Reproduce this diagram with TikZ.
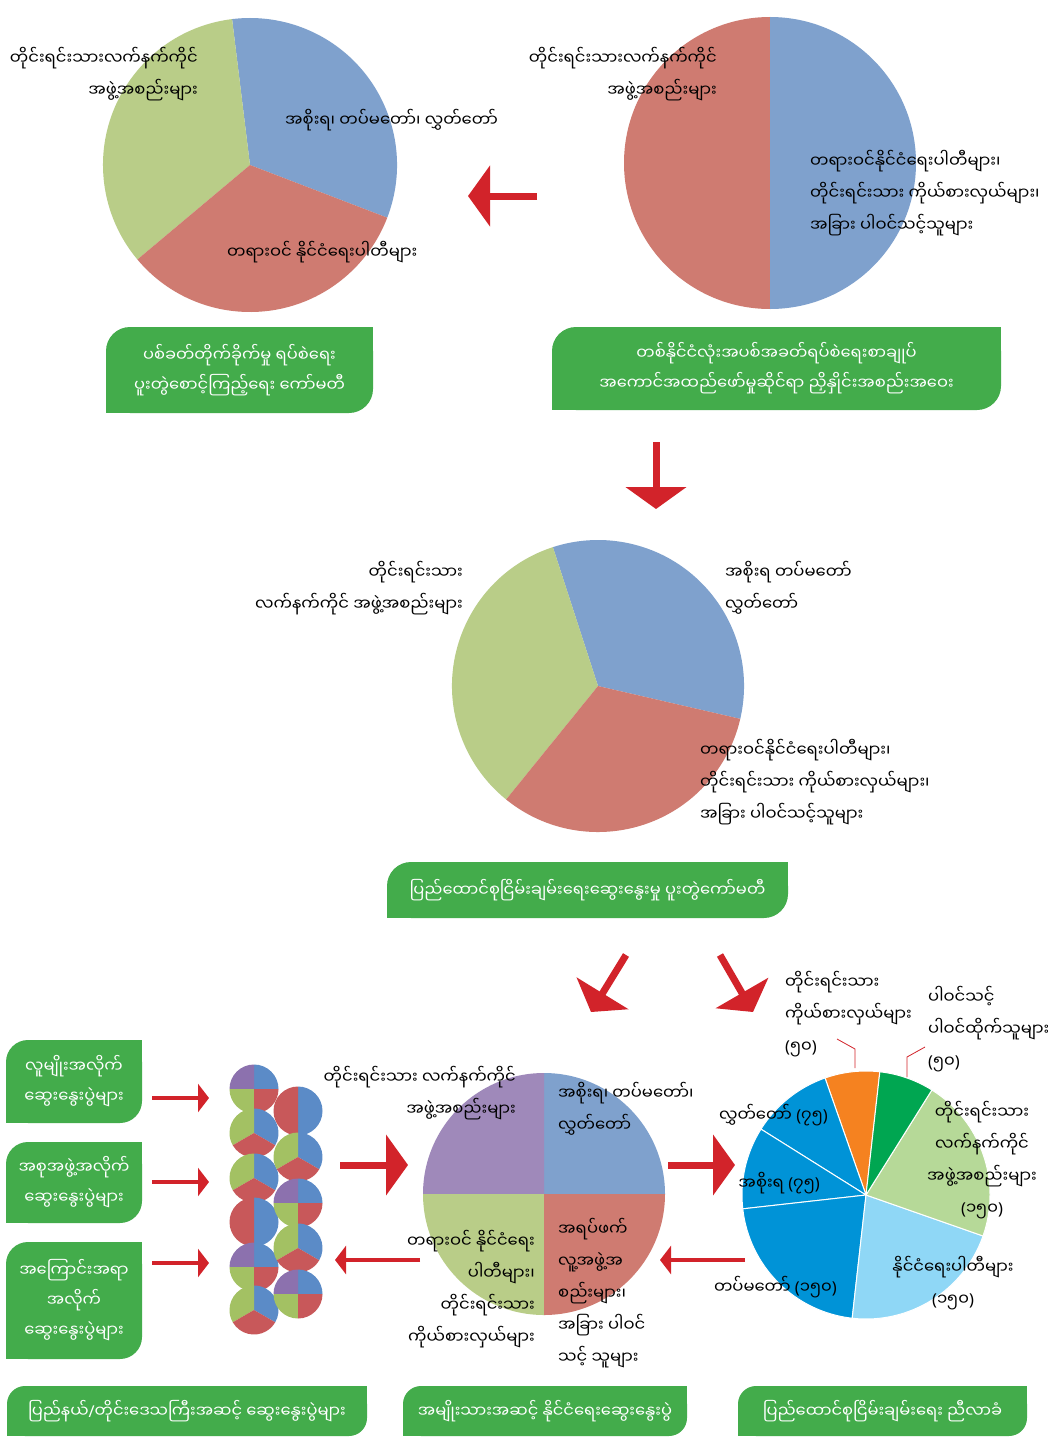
\documentclass[tikz,border=0pt]{standalone}
\usepackage{fontspec}
\usetikzlibrary{arrows.meta}
\newfontfamily\mmfont[Script=Myanmar]{Noto Sans Myanmar UI}
\newfontfamily\latfont{Noto Sans}
\newcommand{\lp}{{\latfont(}}
\newcommand{\rp}{{\latfont)}}
\pgfdeclarelayer{background}
\pgfsetlayers{background,main}

\definecolor{pieblue}{HTML}{7FA1CD}
\definecolor{piered}{HTML}{CF7B71}
\definecolor{piegreen}{HTML}{B9CD88}
\definecolor{piepurple}{HTML}{9F89BA}
\definecolor{sblue}{HTML}{5B8BC7}
\definecolor{sred}{HTML}{C8585A}
\definecolor{sgreen}{HTML}{A3C163}
\definecolor{spurple}{HTML}{8C71AE}
\definecolor{boxgreen}{HTML}{43AC4B}
\definecolor{arrowred}{HTML}{D2232A}
\definecolor{dblue}{HTML}{0093D7}
\definecolor{lblue}{HTML}{8FD7F6}
\definecolor{lgreen}{HTML}{B6D998}
\definecolor{dgreen}{HTML}{00A651}
\definecolor{orange}{HTML}{F58220}

% one slice of a pie, drawn round (0,0): start, end, radius, colour
\newcommand{\slice}[4]{\fill[#4] (0,0) -- (#1:#3) arc[start angle=#1,end angle=#2,radius=#3] -- cycle;}
\newcommand{\quarterpie}[3]{\begin{scope}[shift={(#1,#2)},yscale=-1]
  \slice{0}{90}{#3}{sblue} \slice{90}{180}{#3}{spurple} \slice{180}{270}{#3}{sgreen} \slice{270}{360}{#3}{sred}
  \end{scope}}
\newcommand{\thirdpie}[3]{\begin{scope}[shift={(#1,#2)},yscale=-1]
  \slice{-30}{90}{#3}{sblue} \slice{90}{210}{#3}{sgreen} \slice{210}{330}{#3}{sred}
  \end{scope}}
\newcommand{\halfpie}[3]{\begin{scope}[shift={(#1,#2)},yscale=-1]
  \slice{-90}{90}{#3}{sblue} \slice{90}{270}{#3}{sred}
  \end{scope}}

\tikzset{
  lbl/.style={font=\mmfont\fontsize{16.4}{32}\selectfont, inner sep=0pt},
  gbox/.style={fill=boxgreen, rounded corners=24pt, text=white, align=center, inner sep=0pt,
    font=\mmfont\fontsize{16.3}{30}\selectfont},
  bigarrow/.style={draw=arrowred, line width=7pt, -{Triangle[width=60pt,length=22pt]}},
  thinarrow/.style={draw=arrowred, line width=4pt, -{Triangle[width=28pt,length=11pt]}},
  leader/.style={draw=arrowred, line width=0.8pt},
}

\begin{document}
\begin{tikzpicture}[x=1pt,y=-1pt]
\useasboundingbox (0,0) rectangle (1048,1437);

% top left pie
\begin{scope}[shift={(250,165)},yscale=-1]
\slice{-21}{97}{147}{pieblue} \slice{97}{220}{147}{piegreen} \slice{220}{339}{147}{piered}
\end{scope}
\node[lbl, align=right, anchor=east] (tl-eao) at (198,74) {တိုင်းရင်းသားလက်နက်ကိုင်\\အဖွဲ့အစည်းများ};
\node[lbl, anchor=west] (tl-gov) at (285,120) {အစိုးရ၊ တပ်မတော်၊ လွှတ်တော်};
\node[lbl, anchor=west] (tl-party) at (227,252) {တရားဝင် နိုင်ငံရေးပါတီများ};

% top right pie
\begin{scope}[shift={(770,163)},yscale=-1]
\slice{90}{270}{146}{piered} \slice{-90}{90}{146}{pieblue}
\end{scope}
\node[lbl, align=right, anchor=east] (tr-eao) at (717,74) {တိုင်းရင်းသားလက်နက်ကိုင်\\အဖွဲ့အစည်းများ};
\node[lbl, align=left, anchor=west] (tr-other) at (810,193) {တရားဝင်နိုင်ငံရေးပါတီများ၊\\တိုင်းရင်းသား ကိုယ်စားလှယ်များ၊\\အခြား ပါဝင်သင့်သူများ};

% boxes under the top pies
\node[gbox, minimum width=267pt, minimum height=86pt] (jmc) at (239.5,370) {ပစ်ခတ်တိုက်ခိုက်မှု ရပ်စဲရေး\\ပူးတွဲစောင့်ကြည့်ရေး ကော်မတီ};
\node[gbox, minimum width=449pt, minimum height=83pt] (jicm) at (776.5,368.5) {တစ်နိုင်ငံလုံးအပစ်အခတ်ရပ်စဲရေးစာချုပ်\\အကောင်အထည်ဖော်မှုဆိုင်ရာ ညှိနှိုင်းအစည်းအဝေး};

% middle pie
\begin{scope}[shift={(598,686)},yscale=-1]
\slice{-13}{108}{146}{pieblue} \slice{108}{231}{146}{piegreen} \slice{231}{347}{146}{piered}
\end{scope}
\node[lbl, align=right, anchor=east] (m-eao) at (463,588) {တိုင်းရင်းသား\\လက်နက်ကိုင် အဖွဲ့အစည်းများ};
\node[lbl, align=left, anchor=west] (m-gov) at (725,588) {အစိုးရ တပ်မတော်\\လွှတ်တော်};
\node[lbl, align=left, anchor=west] (m-other) at (700,782) {တရားဝင်နိုင်ငံရေးပါတီများ၊\\တိုင်းရင်းသား ကိုယ်စားလှယ်များ၊\\အခြား ပါဝင်သင့်သူများ};
\node[gbox, minimum width=401pt, minimum height=56pt] (upjc) at (587.5,890) {ပြည်ထောင်စုငြိမ်းချမ်းရေးဆွေးနွေးမှု ပူးတွဲကော်မတီ};

% left boxes and the stack of small pies
\node[gbox, rounded corners=22pt, minimum width=136pt, minimum height=83pt] (ethnic) at (74,1081.5) {လူမျိုးအလိုက်\\ဆွေးနွေးပွဲများ};
\node[gbox, rounded corners=22pt, minimum width=136pt, minimum height=81pt] (sector) at (74,1182.5) {အစုအဖွဲ့အလိုက်\\ဆွေးနွေးပွဲများ};
\node[gbox, rounded corners=22pt, minimum width=136pt, minimum height=117pt] (theme) at (74,1300.5) {အကြောင်းအရာ\\အလိုက်\\ဆွေးနွေးပွဲများ};
\foreach \y/\kind in {1089/quarterpie,1133/thirdpie,1178/thirdpie,1222/halfpie,1267/quarterpie,1310/thirdpie}
  \csname\kind\endcsname{254}{\y}{24.5};
\foreach \y/\kind in {1111/halfpie,1157/thirdpie,1203/quarterpie,1248/thirdpie,1294/quarterpie}
  \csname\kind\endcsname{298}{\y}{24.5};

% bottom centre pie
\begin{scope}[shift={(544,1194)},yscale=-1]
\slice{0}{90}{121}{pieblue} \slice{90}{180}{121}{piepurple} \slice{180}{270}{121}{piegreen} \slice{270}{360}{121}{piered}
\end{scope}
\node[lbl, align=right, anchor=east] (b-eao) at (516,1093) {တိုင်းရင်းသား လက်နက်ကိုင်\\အဖွဲ့အစည်းများ};
\node[lbl, align=left, anchor=west] (b-gov) at (558,1109) {အစိုးရ၊ တပ်မတော်၊\\လွှတ်တော်};
\node[lbl, align=right, anchor=east] (b-party) at (535,1289.5) {တရားဝင် နိုင်ငံရေး\\ပါတီများ၊\\တိုင်းရင်းသား\\ကိုယ်စားလှယ်များ};
\node[lbl, align=left, anchor=west] (b-cso) at (558,1293.5) {အရပ်ဖက်\\လူ့အဖွဲ့အ\\စည်းများ၊\\အခြား ပါဝင်\\သင့် သူများ};

% right pie, 700 seats
\begin{scope}[shift={(866,1195)},yscale=-1]
\foreach \a/\b/\c in {83.6/109.3/orange,109.3/147.9/dblue,147.9/186.4/dblue,186.4/263.6/dblue,263.6/340.7/lblue,340.7/417.9/lgreen,417.9/443.6/dgreen}
  \filldraw[fill=\c, draw=white, line width=1pt] (0,0) -- (\a:124) arc[start angle=\a,end angle=\b,radius=124] -- cycle;
\end{scope}
\node[lbl, anchor=east] (r-hlu) at (828,1115) {လွှတ်တော် \lp၇၅\rp};
\node[lbl, anchor=east] (r-gov) at (820,1183) {အစိုးရ \lp၇၅\rp};
\node[lbl, anchor=east] (r-tat) at (837,1287) {တပ်မတော် \lp၁၅၀\rp};
\node[lbl, align=center] (r-party) at (953,1283.5) {နိုင်ငံရေးပါတီများ\\\lp၁၅၀\rp};
\node[lbl, align=center] (r-eao) at (982,1160) {တိုင်းရင်းသား\\လက်နက်ကိုင်\\အဖွဲ့အစည်းများ\\\lp၁၅၀\rp};
\node[lbl, align=left, anchor=west] (r-rep) at (785,1014) {တိုင်းရင်းသား\\ကိုယ်စားလှယ်များ\\\lp၅၀\rp};
\node[lbl, align=left, anchor=west] (r-fit) at (928,1029) {ပါဝင်သင့်\\ပါဝင်ထိုက်သူများ\\\lp၅၀\rp};
\coordinate (l1a) at (837,1039); \coordinate (l1b) at (855,1049); \coordinate (l1c) at (855,1068);
\coordinate (l2a) at (925,1047); \coordinate (l2b) at (907,1057); \coordinate (l2c) at (907,1077);
\draw[leader] (l1a) -- (l1b) -- (l1c);
\draw[leader] (l2a) -- (l2b) -- (l2c);

% bottom boxes
\node[gbox, rounded corners=18pt, minimum width=360pt, minimum height=50pt] (state) at (187,1411) {ပြည်နယ်{\latfont/}တိုင်းဒေသကြီးအဆင့် ဆွေးနွေးပွဲများ};
\node[gbox, rounded corners=18pt, minimum width=284pt, minimum height=50pt] (natl) at (545,1411) {အမျိုးသားအဆင့် နိုင်ငံရေးဆွေးနွေးပွဲ};
\node[gbox, rounded corners=18pt, minimum width=289pt, minimum height=50pt] (upc) at (882.5,1411) {ပြည်ထောင်စုငြိမ်းချမ်းရေး ညီလာခံ};

% square corners of the green boxes, behind the text
\begin{pgfonlayer}{background}
\fill[white] (0,0) rectangle (1048,1437);
\foreach \b/\r in {jmc/26,jicm/26,upjc/26,ethnic/24,sector/24,theme/24,state/20,natl/20,upc/20}{
  \fill[boxgreen] (\b.north east) rectangle +(-\r,\r);
  \fill[boxgreen] (\b.south west) rectangle +(\r,-\r);}
\end{pgfonlayer}

% arrows
\coordinate (a1s) at (537,196); \coordinate (a1e) at (468,196);
\coordinate (a2s) at (656,442); \coordinate (a2e) at (656,509);
\coordinate (a3s) at (626,955); \coordinate (a3e) at (591,1012);
\coordinate (a4s) at (720,955); \coordinate (a4e) at (753,1012);
\coordinate (a5s) at (340,1165); \coordinate (a5e) at (408,1165);
\coordinate (a6s) at (668,1165); \coordinate (a6e) at (735,1165);
\coordinate (a7s) at (420,1260); \coordinate (a7e) at (335,1260);
\coordinate (a8s) at (745,1260); \coordinate (a8e) at (660,1260);
\foreach \n in {1,...,6} \draw[bigarrow] (a\n s) -- (a\n e);
\foreach \n in {7,8} \draw[thinarrow] (a\n s) -- (a\n e);
\foreach \y in {1098,1182,1263} \draw[thinarrow] (152,\y) -- (209,\y);
\end{tikzpicture}
\end{document}
